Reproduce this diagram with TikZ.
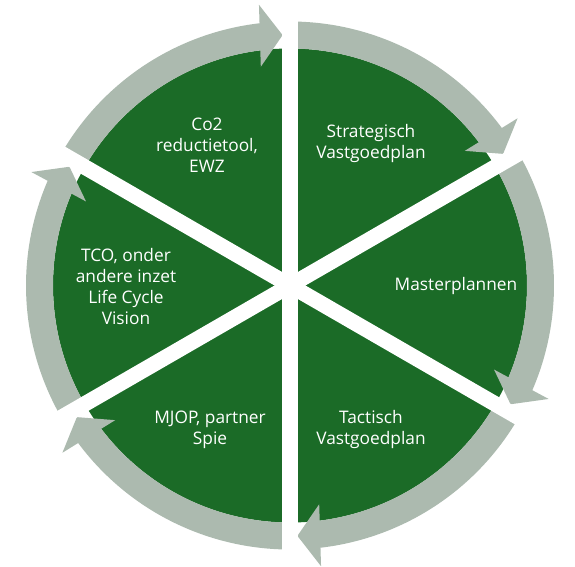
\documentclass[tikz,border=0pt]{standalone}
\usepackage{fontspec}
\setmainfont{Open Sans}
\usetikzlibrary{calc}
\definecolor{cgreen}{RGB}{27,107,39}
\definecolor{cgrey}{RGB}{172,186,175}
\tikzset{
  lbl/.style={text=white, align=center, inner sep=0pt, font=\fontsize{17.3}{21}\selectfont},
  gapband/.style={white, line width=15.5}
}
\begin{document}
\begin{tikzpicture}[x=1pt,y=1pt]
\useasboundingbox (0,0) rectangle (575,566);
\fill[white] (0,0) rectangle (575,566);
\begin{scope}[shift={(290,280.5)}]
  \fill[cgreen] (0,0) circle[radius=237];
  \foreach \g in {90,30,-30,-90,-150,-210} {
    \pgfmathsetmacro\t{\g-58.3}
    \pgfmathsetmacro\ai{\t+5.5}
    \pgfmathsetmacro\ao{\t+4.93}
    \pgfmathsetmacro\tn{\t+90}
    \fill[cgrey] (\g:237) arc[start angle=\g, end angle=\ai, radius=237]
      -- ($(\t:219.5)+(\tn:22.7)$) -- (\t:250.5) -- ($(\t:281.5)+(\tn:22.7)$)
      -- (\ao:264) arc[start angle=\ao, end angle=\g, radius=264] -- cycle;
  }
  \foreach \a in {90,30,150} {
    \pgfmathsetmacro\b{\a+180}
    \draw[gapband] (\a:290) -- (\b:290);
  }
\end{scope}
\node[lbl] (c1) at (207,421) {Co2\\reductietool,\\EWZ};
\node[lbl] (c2) at (371,422.5) {Strategisch\\Vastgoedplan};
\node[lbl] (c3) at (456,280) {Masterplannen};
\node[lbl] (c4) at (371,136) {Tactisch\\Vastgoedplan};
\node[lbl] (c5) at (210,136) {MJOP, partner\\Spie};
\node[lbl] (c6) at (126,279) {TCO, onder\\andere inzet\\Life Cycle\\Vision};
\end{tikzpicture}
\end{document}
